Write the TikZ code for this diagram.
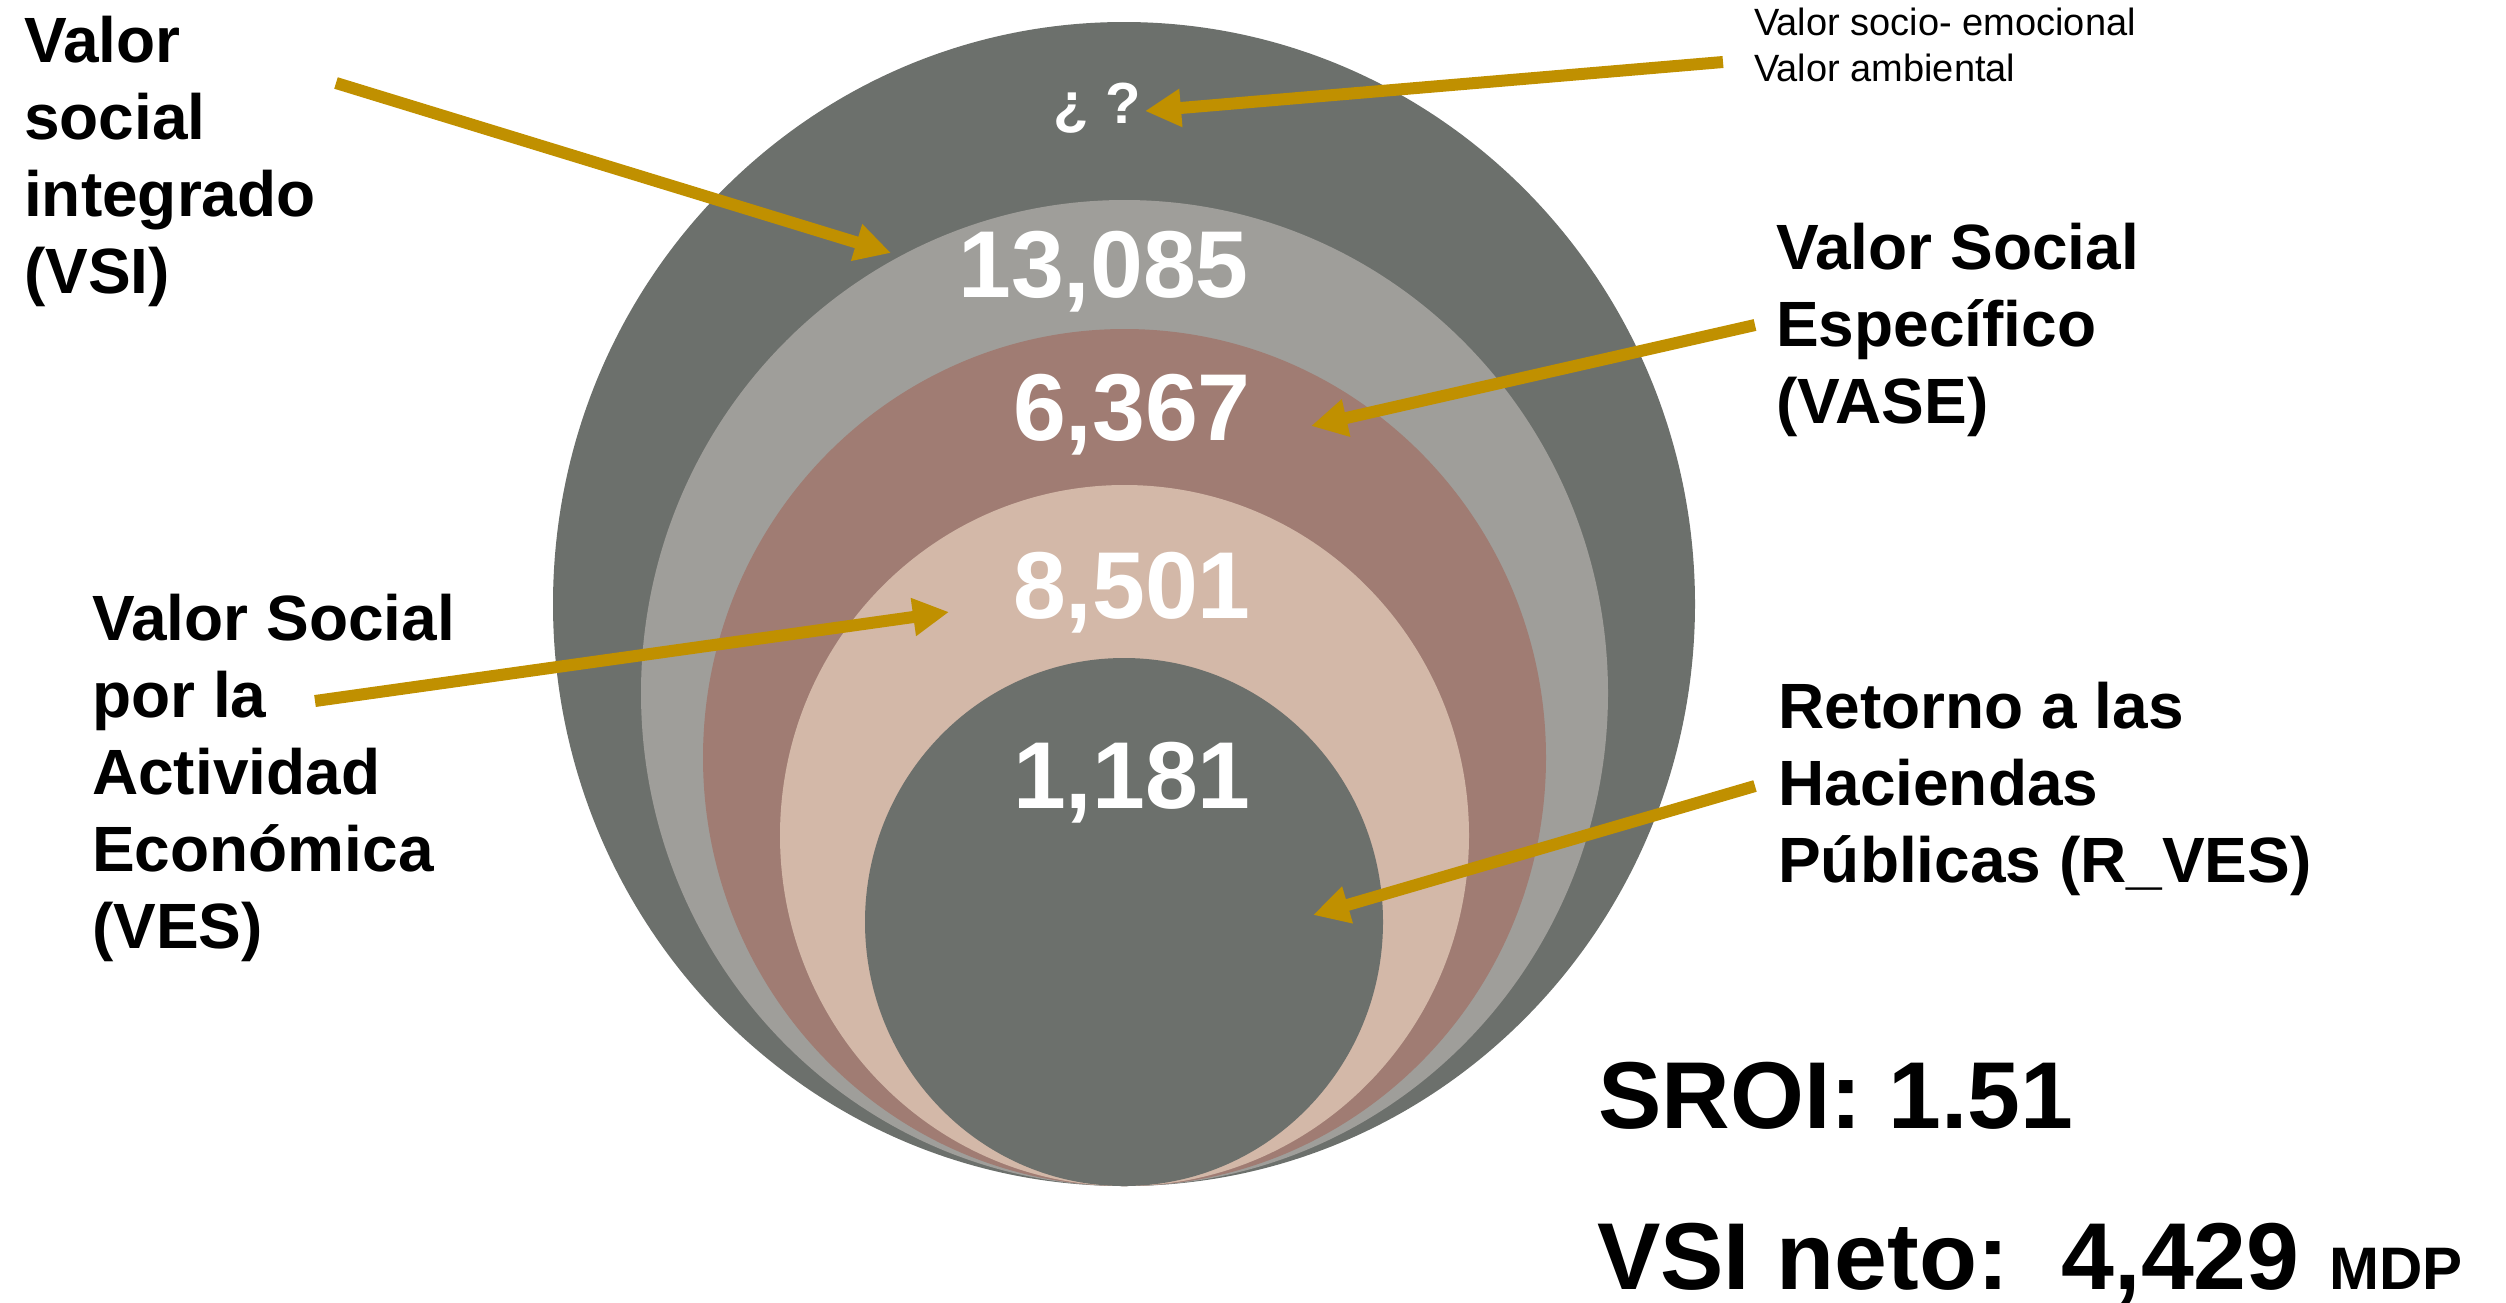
\documentclass[tikz,border=0pt]{standalone}
\usepackage{fontspec}
\setmainfont{Liberation Sans}
\usetikzlibrary{arrows.meta,shapes.geometric}
\definecolor{dkgray}{RGB}{108,112,108}
\definecolor{ltgray}{RGB}{159,158,154}
\definecolor{brownish}{RGB}{160,124,115}
\definecolor{beige}{RGB}{211,184,168}
\definecolor{gold}{RGB}{192,144,0}
\begin{document}
\begin{tikzpicture}[x=1pt,y=-1pt,
  ring/.style={ellipse, inner sep=0pt, draw=none},
  lbl/.style={font=\bfseries\fontsize{64}{77}\selectfont, align=left, inner sep=0pt, anchor=north west},
  small/.style={font=\fontsize{38}{46}\selectfont, align=left, inner sep=0pt, anchor=north west},
  num/.style={font=\bfseries\fontsize{95}{95}\selectfont, text=white, inner sep=0pt, anchor=base east},
  big/.style={font=\bfseries\fontsize{95}{95}\selectfont, inner sep=0pt, anchor=base west},
  goldarrow/.style={draw=gold, line width=12pt, -{Triangle[length=36pt,width=36pt]}}]
\useasboundingbox (0,0) rectangle (2506,1302);

% nested circles
\node[ring, fill=dkgray, minimum width=1142pt, minimum height=1164pt] (c1) at (1124,604) {};
\node[ring, fill=ltgray, minimum width=967pt, minimum height=986pt] (c2) at (1124.5,693) {};
\node[ring, fill=brownish, minimum width=843pt, minimum height=857pt] (c3) at (1124.5,757.5) {};
\node[ring, fill=beige, minimum width=689pt, minimum height=701pt] (c4) at (1124.5,835.5) {};
\node[ring, fill=dkgray, minimum width=518pt, minimum height=528pt] (c5) at (1124,922) {};

% values
\node[num] (n1) at (1249,297) {13,085};
\node[num] (n2) at (1251,440) {6,367};
\node[num] (n3) at (1251,618) {8,501};
\node[num] (n4) at (1251,808) {1,181};
\node[font=\bfseries\fontsize{58}{58}\selectfont, text=white, anchor=base east, inner sep=0pt] (q) at (1141,123) {¿ ?};

% labels
\node[lbl] (vsi) at (24,16) {Valor\\social\\integrado\\(VSI)};
\node[lbl] (ves) at (92,594) {Valor Social\\por la\\Actividad\\Económica\\(VES)};
\node[lbl] (vase) at (1776,223) {Valor Social\\Específico\\(VASE)};
\node[lbl] (rves) at (1778,682) {Retorno a las\\Haciendas\\Públicas (R\_VES)};
\node[small] (emo) at (1754,8) {Valor socio- emocional\\Valor ambiental};

\node[big] (sroi) at (1598,1128) {SROI: 1.51};
\node[big, text depth=0pt] (neto) at (1597,1289) {VSI neto:\hspace{53pt}4,429\hspace{30pt}{\fontsize{60}{60}\selectfont MDP}};

% arrows
\coordinate (t1) at (336,83);   \coordinate (h1) at (891,253);
\coordinate (t2) at (1723,62);  \coordinate (h2) at (1145,111);
\coordinate (t3) at (1755,325); \coordinate (h3) at (1311,426);
\coordinate (t4) at (315,701);  \coordinate (h4) at (949,612);
\coordinate (t5) at (1755,786); \coordinate (h5) at (1313,915);
\draw[goldarrow] (t1) -- (h1);
\draw[goldarrow] (t2) -- (h2);
\draw[goldarrow] (t3) -- (h3);
\draw[goldarrow] (t4) -- (h4);
\draw[goldarrow] (t5) -- (h5);
\end{tikzpicture}
\end{document}
